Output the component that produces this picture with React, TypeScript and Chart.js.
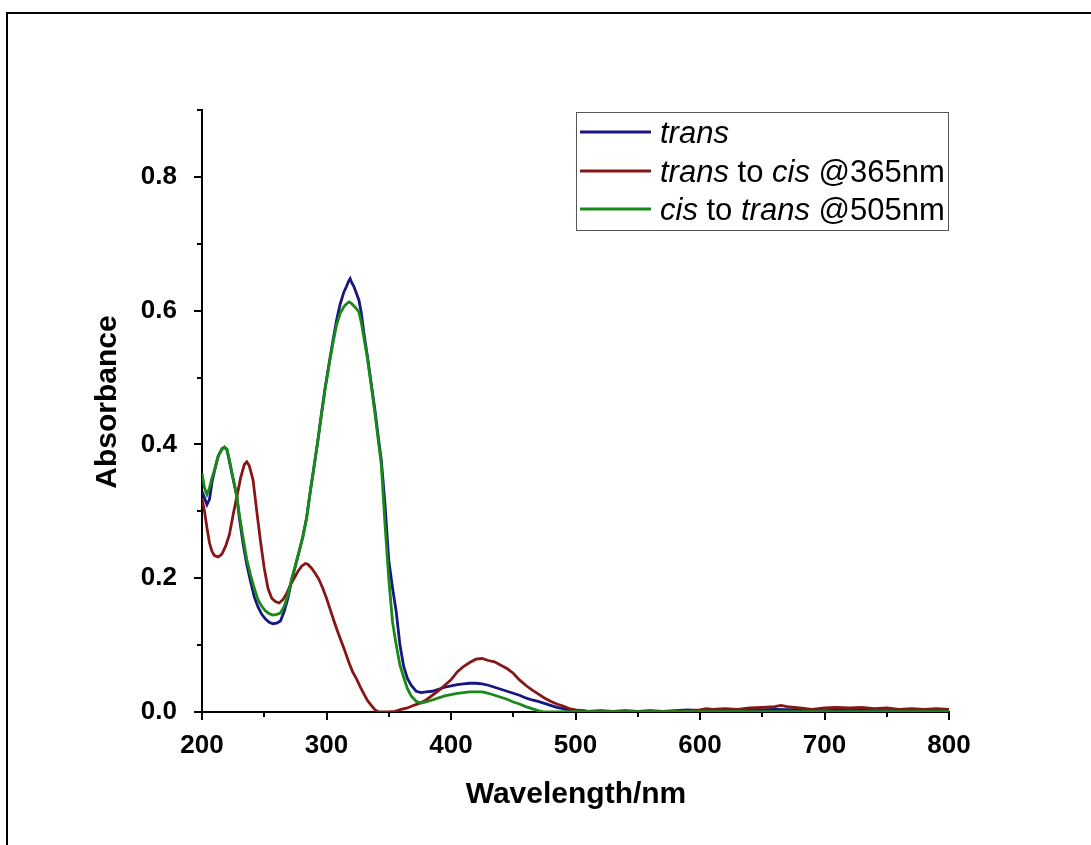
import React, { useEffect, useRef } from 'react';
import { Chart, registerables } from 'chart.js';

Chart.register(...registerables);

// ---- Data ----
const transWl = [200, 202, 204, 206, 208, 210, 213, 216, 218, 220, 222, 224, 226, 228, 230, 233, 236, 239, 242, 245, 248, 251, 254, 257, 260, 263, 266, 269, 272, 275, 278, 281, 284, 287, 290, 293, 296, 299, 302, 305, 308, 311, 314, 316, 318, 319, 320, 322, 324, 326, 328, 330, 333, 336, 339, 342, 344, 347, 350, 353, 356, 359, 362, 365, 368, 372, 376, 380, 385, 390, 395, 400, 405, 410, 415, 420, 425, 430, 435, 440, 445, 450, 455, 460, 465, 470, 475, 480, 485, 490, 495, 500, 505, 510, 520, 530, 540, 550, 560, 570, 580, 590, 600, 620, 640, 660, 680, 700, 720, 740, 760, 780, 800];
const transAbs = [0.33, 0.32, 0.31, 0.318, 0.343, 0.36, 0.382, 0.393, 0.396, 0.392, 0.375, 0.357, 0.34, 0.322, 0.29, 0.252, 0.22, 0.195, 0.172, 0.157, 0.146, 0.139, 0.134, 0.132, 0.133, 0.136, 0.15, 0.17, 0.197, 0.218, 0.24, 0.262, 0.29, 0.33, 0.367, 0.405, 0.447, 0.486, 0.52, 0.553, 0.585, 0.61, 0.628, 0.636, 0.645, 0.648, 0.643, 0.636, 0.626, 0.616, 0.596, 0.567, 0.53, 0.49, 0.45, 0.405, 0.377, 0.31, 0.227, 0.186, 0.15, 0.1, 0.068, 0.05, 0.04, 0.031, 0.029, 0.03, 0.031, 0.034, 0.037, 0.039, 0.041, 0.042, 0.043, 0.043, 0.042, 0.04, 0.037, 0.034, 0.031, 0.028, 0.025, 0.021, 0.018, 0.016, 0.013, 0.01, 0.007, 0.005, 0.003, 0.002, 0.002, 0.001, 0.002, 0.001, 0.002, 0.001, 0.002, 0.001, 0.002, 0.003, 0.002, 0.002, 0.003, 0.004, 0.003, 0.002, 0.003, 0.002, 0.002, 0.002, 0.002];

const toCisWl = [200, 202, 204, 206, 208, 210, 213, 216, 219, 222, 225, 228, 231, 234, 236, 238, 241, 244, 247, 250, 253, 256, 259, 262, 265, 268, 271, 274, 277, 280, 283, 285, 288, 291, 294, 297, 300, 303, 306, 309, 312, 315, 318, 321, 324, 327, 330, 333, 336, 339, 342, 346, 350, 355, 360, 365, 370, 375, 380, 385, 390, 395, 400, 405, 410, 415, 420, 425, 430, 435, 440, 445, 450, 455, 460, 465, 470, 475, 480, 485, 490, 495, 500, 505, 510, 520, 530, 540, 550, 560, 570, 580, 590, 600, 605, 610, 620, 630, 640, 650, 660, 665, 670, 680, 690, 700, 710, 720, 730, 740, 750, 760, 770, 780, 790, 800];
const toCisAbs = [0.32, 0.3, 0.275, 0.253, 0.24, 0.234, 0.232, 0.236, 0.248, 0.265, 0.295, 0.322, 0.35, 0.37, 0.374, 0.368, 0.347, 0.3, 0.255, 0.215, 0.185, 0.17, 0.165, 0.163, 0.168, 0.177, 0.19, 0.2, 0.21, 0.218, 0.222, 0.221, 0.215, 0.207, 0.198, 0.185, 0.17, 0.153, 0.136, 0.12, 0.105, 0.09, 0.074, 0.06, 0.05, 0.038, 0.027, 0.017, 0.01, 0.003, 0.0, 0.0, 0.0, 0.001, 0.004, 0.006, 0.01, 0.013, 0.018, 0.025, 0.032, 0.04, 0.048, 0.06, 0.068, 0.074, 0.079, 0.08, 0.077, 0.075, 0.07, 0.065, 0.058, 0.048, 0.04, 0.033, 0.027, 0.021, 0.016, 0.012, 0.009, 0.005, 0.003, 0.002, 0.001, 0.0, 0.001, 0.0, 0.001, 0.0, 0.001, 0.001, 0.002, 0.003, 0.005, 0.004, 0.005, 0.004, 0.006, 0.007, 0.008, 0.01, 0.008, 0.006, 0.004, 0.006, 0.007, 0.006, 0.007, 0.005, 0.006, 0.004, 0.005, 0.004, 0.005, 0.004];

const toTransWl = [200, 202, 204, 206, 208, 210, 213, 216, 218, 220, 222, 224, 226, 228, 230, 233, 236, 239, 242, 245, 248, 251, 254, 257, 260, 263, 266, 269, 272, 275, 278, 281, 284, 287, 290, 293, 296, 299, 302, 305, 308, 311, 314, 316, 318, 320, 322, 324, 326, 328, 330, 333, 336, 339, 342, 344, 347, 350, 353, 356, 359, 362, 365, 368, 372, 376, 380, 385, 390, 395, 400, 405, 410, 415, 420, 425, 430, 435, 440, 445, 450, 455, 460, 465, 470, 475, 480, 500, 550, 600, 650, 700, 750, 800];
const toTransAbs = [0.357, 0.335, 0.325, 0.335, 0.35, 0.362, 0.383, 0.394, 0.396, 0.393, 0.377, 0.358, 0.34, 0.322, 0.295, 0.26, 0.228, 0.205, 0.185, 0.168, 0.158, 0.151, 0.147, 0.145, 0.146, 0.148, 0.158, 0.175, 0.199, 0.219, 0.24, 0.262, 0.29, 0.33, 0.367, 0.405, 0.445, 0.484, 0.518, 0.55, 0.578, 0.596, 0.606, 0.61, 0.613, 0.611, 0.607, 0.603, 0.598, 0.582, 0.56, 0.527, 0.487, 0.445, 0.4, 0.37, 0.28, 0.2, 0.135, 0.1, 0.07, 0.052, 0.035, 0.024, 0.016, 0.0135, 0.015, 0.018, 0.021, 0.024, 0.026, 0.028, 0.029, 0.03, 0.03, 0.03, 0.028, 0.025, 0.022, 0.019, 0.015, 0.012, 0.008, 0.005, 0.002, 0.0, 0.0, 0.0005, 0.0005, 0.0005, 0.0005, 0.0005, 0.0005, 0.0005];

const xTicksMajor = [200, 300, 400, 500, 600, 700, 800];
const yTicksMajor = [0.0, 0.2, 0.4, 0.6, 0.8];

const seriesNames = ['trans', 'trans to cis @365nm', 'cis to trans @505nm'];
const X_TITLE = 'Wavelength/nm';
const Y_TITLE = 'Absorbance';

const BLUE = '#17177f';
const RED = '#861717';
const GREEN = '#198a19';

const FONT = '"Liberation Sans", Arial, Helvetica, sans-serif';

// legend segments: [text, italic]
const legendRows: { color: string; parts: [string, boolean][] }[] = [
  { color: BLUE, parts: [['trans', true]] },
  { color: RED, parts: [['trans', true], [' to ', false], ['cis', true], [' @365nm', false]] },
  { color: GREEN, parts: [['cis', true], [' to ', false], ['trans', true], [' @505nm', false]] },
];

const pairs = (xs: number[], ys: number[]) => xs.map((x, i) => ({ x, y: ys[i] }));

const decorPlugin = {
  id: 'decor',
  afterDraw(chart: any) {
    const ctx: CanvasRenderingContext2D = chart.ctx;
    const xs = chart.scales.x;
    const ys = chart.scales.y;
    ctx.save();
    ctx.strokeStyle = '#000';
    ctx.lineWidth = 2;
    xs.ticks.forEach((t: any) => {
      const px = Math.round(xs.getPixelForValue(t.value));
      const major = xTicksMajor.some((m) => Math.abs(m - t.value) < 1e-6);
      const len = major ? 8 : 5;
      ctx.beginPath();
      ctx.moveTo(px, xs.top);
      ctx.lineTo(px, xs.top + len);
      ctx.stroke();
    });
    ys.ticks.forEach((t: any) => {
      const py = Math.round(ys.getPixelForValue(t.value));
      const major = yTicksMajor.some((m) => Math.abs(m - t.value) < 1e-6);
      const len = major ? 8 : 5;
      ctx.beginPath();
      ctx.moveTo(ys.right - len, py);
      ctx.lineTo(ys.right, py);
      ctx.stroke();
    });

    // axis titles
    ctx.fillStyle = '#000';
    ctx.font = `bold 30px ${FONT}`;
    ctx.textAlign = 'center';
    ctx.textBaseline = 'alphabetic';
    ctx.fillText(X_TITLE, 576, 803);
    ctx.save();
    ctx.translate(116, 402);
    ctx.rotate(-Math.PI / 2);
    ctx.fillText(Y_TITLE, 0, 0);
    ctx.restore();

    // legend
    ctx.lineWidth = 1;
    ctx.strokeStyle = '#555';
    ctx.strokeRect(576.5, 112.5, 372, 118);
    const rowLineY = [132, 171, 209];
    const rowBase = [143, 182, 220];
    legendRows.forEach((row, i) => {
      ctx.strokeStyle = row.color;
      ctx.lineWidth = 3;
      ctx.beginPath();
      ctx.moveTo(580, rowLineY[i]);
      ctx.lineTo(651, rowLineY[i]);
      ctx.stroke();
      let x = 660;
      ctx.fillStyle = '#000';
      ctx.textAlign = 'left';
      row.parts.forEach(([txt, it]) => {
        ctx.font = `${it ? 'italic ' : ''}31px ${FONT}`;
        ctx.fillText(txt, x, rowBase[i]);
        x += ctx.measureText(txt).width;
      });
    });
    ctx.restore();
  },
};

export default function App() {
  const ref = useRef<HTMLCanvasElement>(null);
  useEffect(() => {
    const chart = new Chart(ref.current as HTMLCanvasElement, {
      type: 'line',
      data: {
        datasets: [
          { label: seriesNames[0], data: pairs(transWl, transAbs), borderColor: BLUE, order: 2 },
          { label: seriesNames[1], data: pairs(toCisWl, toCisAbs), borderColor: RED, order: 1 },
          { label: seriesNames[2], data: pairs(toTransWl, toTransAbs), borderColor: GREEN, order: 0 },
        ],
      },
      options: {
        animation: false,
        responsive: false,
        parsing: false as any,
        elements: {
          line: { borderWidth: 2.8, tension: 0, fill: false },
          point: { radius: 0, hoverRadius: 0 },
        },
        layout: { padding: { left: 0, top: 110, right: 142, bottom: 0 } },
        plugins: { legend: { display: false }, tooltip: { enabled: false }, title: { display: false } },
        scales: {
          x: {
            type: 'linear',
            min: 200,
            max: 800,
            grid: { display: true, drawOnChartArea: false, drawTicks: false },
            border: { display: true, color: '#000', width: 2 },
            ticks: {
              stepSize: 50,
              padding: 18,
              color: '#000',
              font: { family: FONT, size: 26, weight: 'bold' },
              maxRotation: 0,
              autoSkip: false,
              callback: (v: any) => (xTicksMajor.some((m) => Math.abs(m - v) < 1e-6) ? String(v) : ''),
            },
            afterFit: (s: any) => {
              s.height = 133;
            },
          },
          y: {
            type: 'linear',
            min: 0,
            max: 0.9,
            grid: { display: true, drawOnChartArea: false, drawTicks: false },
            border: { display: true, color: '#000', width: 2 },
            ticks: {
              stepSize: 0.1,
              padding: 25,
              color: '#000',
              font: { family: FONT, size: 26, weight: 'bold' },
              autoSkip: false,
              callback: (v: any) => (yTicksMajor.some((m) => Math.abs(m - v) < 1e-6) ? Number(v).toFixed(1) : ''),
            },
            afterFit: (s: any) => {
              s.width = 202;
            },
          },
        },
      },
      plugins: [decorPlugin],
    });
    return () => chart.destroy();
  }, []);
  return (
    <div style={{ position: 'fixed', left: 0, top: 0, width: 1091, height: 845, overflow: 'hidden', background: '#fff' }}>
      <div
        style={{
          position: 'absolute',
          left: 6,
          top: 12,
          width: 2000,
          height: 2000,
          borderLeft: '2px solid #000',
          borderTop: '2px solid #000',
        }}
      />
      <canvas ref={ref} width={1091} height={845} style={{ position: 'absolute', left: 0, top: 0, width: 1091, height: 845 }} />
    </div>
  );
}
